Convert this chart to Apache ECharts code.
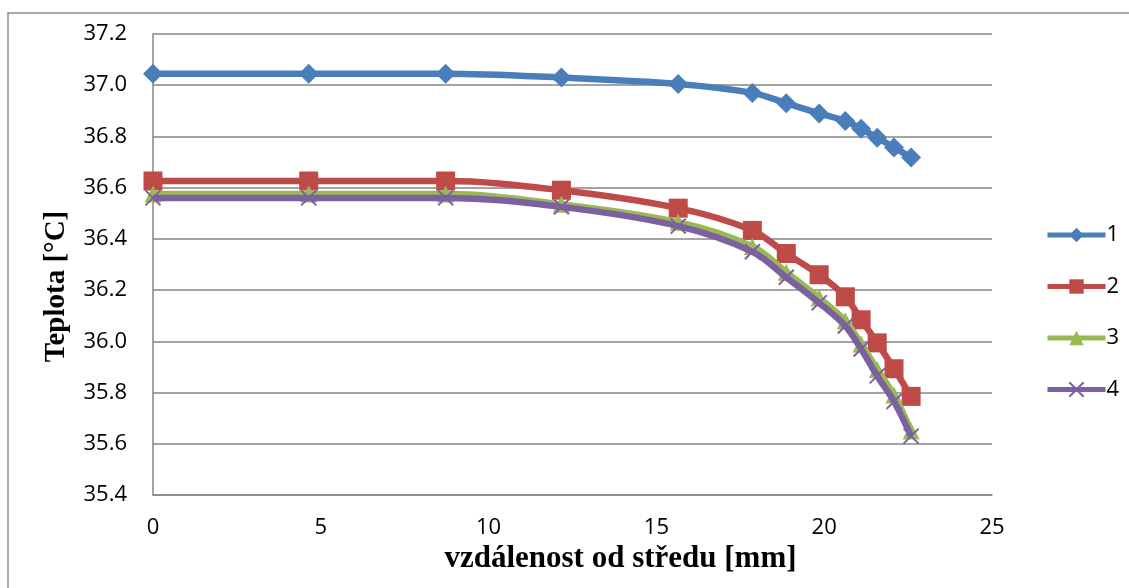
<!DOCTYPE html>
<html>
<head>
<meta charset="utf-8">
<script src="https://cdn.jsdelivr.net/npm/echarts@6/dist/echarts.min.js"></script>
<style>
html, body { margin: 0; padding: 0; background: #fff; }
#container { width: 1129px; height: 588px; }
</style>
</head>
<body>
<div id="container"></div>
<script>
// vzdálenost od středu [mm]
var distance = [0, 4.64, 8.72, 12.17, 15.65, 17.86, 18.87, 19.85, 20.63, 21.10, 21.58, 22.08, 22.59];
// teploty pro jednotlivé řady
var temp1 = [37.045, 37.045, 37.045, 37.03, 37.005, 36.97, 36.93, 36.89, 36.86, 36.83, 36.795, 36.757, 36.718];
var temp2 = [36.626, 36.626, 36.626, 36.59, 36.52, 36.433, 36.343, 36.26, 36.174, 36.084, 35.994, 35.893, 35.785];
var temp3 = [36.575, 36.575, 36.575, 36.535, 36.465, 36.37, 36.27, 36.17, 36.08, 35.99, 35.89, 35.79, 35.65];
var temp4 = [36.56, 36.56, 36.56, 36.525, 36.45, 36.35, 36.25, 36.15, 36.06, 35.97, 35.865, 35.765, 35.63];
var names = ['1', '2', '3', '4'];
var colors = ['#4a7ebb', '#be4b48', '#98b954', '#7d60a0'];

function pairs(ys) {
	var out = [];
	for (var i = 0; i < distance.length; i++) {
		out.push([distance[i], ys[i]]);
	}
	return out;
}

var crossPath = 'path://M0,0L10,10M10,0L0,10';

var dom = document.getElementById("container");
var myChart = echarts.init(dom);

var mkSeries = function (idx, data, symbol, size, extra) {
	var s = {
		name: names[idx],
		type: 'line',
		data: pairs(data),
		smooth: 0.35,
		symbol: symbol,
		symbolSize: size,
		showAllSymbol: true,
		z: 2 + idx,
		lineStyle: { color: colors[idx], width: 6.5 },
		itemStyle: { color: colors[idx] }
	};
	if (extra) {
		s.itemStyle = extra;
	}
	return s;
};

myChart.setOption({
	animation: false,
	textStyle: { fontFamily: '"Open Sans", sans-serif' },
	grid: { left: 153, right: 137, top: 34, bottom: 93 },
	graphic: [{
		type: 'rect',
		shape: { x: 8, y: 13, width: 1130, height: 600 },
		style: { fill: 'none', stroke: '#8c8c8c', lineWidth: 1.5 },
		silent: true
	}],
	legend: {
		orient: 'vertical',
		left: 1040,
		top: 219,
		itemWidth: 58,
		itemHeight: 18,
		itemGap: 29.5,
		data: names,
		lineStyle: { width: 5 },
		textStyle: { fontSize: 22, color: '#000', padding: [0, 0, 0, -4] }
	},
	xAxis: {
		type: 'value',
		min: 0,
		max: 25,
		interval: 5,
		name: 'vzdálenost od středu [mm]',
		nameLocation: 'middle',
		nameGap: 48,
		nameTextStyle: {
			fontFamily: '"Liberation Serif", serif',
			fontWeight: 'bold',
			fontSize: 31,
			color: '#000',
			padding: [0, 0, 0, 96]
		},
		axisLine: { lineStyle: { color: '#868686', width: 1.5 } },
		axisTick: { show: false },
		axisLabel: { fontSize: 22, color: '#000', margin: 22 },
		splitLine: { show: false }
	},
	yAxis: {
		type: 'value',
		min: 35.4,
		max: 37.2,
		interval: 0.2,
		name: 'Teplota [°C]',
		nameLocation: 'middle',
		nameGap: 82,
		nameTextStyle: {
			fontFamily: '"Liberation Serif", serif',
			fontWeight: 'bold',
			fontSize: 29,
			color: '#000',
			padding: [0, 44, 0, 0]
		},
		axisLine: { show: true, lineStyle: { color: '#868686', width: 1.5 } },
		axisTick: { show: false },
		axisLabel: {
			fontSize: 22,
			color: '#000',
			margin: 26,
			formatter: function (v) { return v.toFixed(1); }
		},
		splitLine: { lineStyle: { color: '#868686', width: 1.5 } }
	},
	series: [
		mkSeries(0, temp1, 'diamond', 20),
		mkSeries(1, temp2, 'rect', 19),
		mkSeries(2, temp3, 'triangle', 17),
		mkSeries(3, temp4, crossPath, 15, { color: 'rgba(0,0,0,0)', borderColor: colors[3], borderWidth: 2 })
	]
});
</script>
</body>
</html>
